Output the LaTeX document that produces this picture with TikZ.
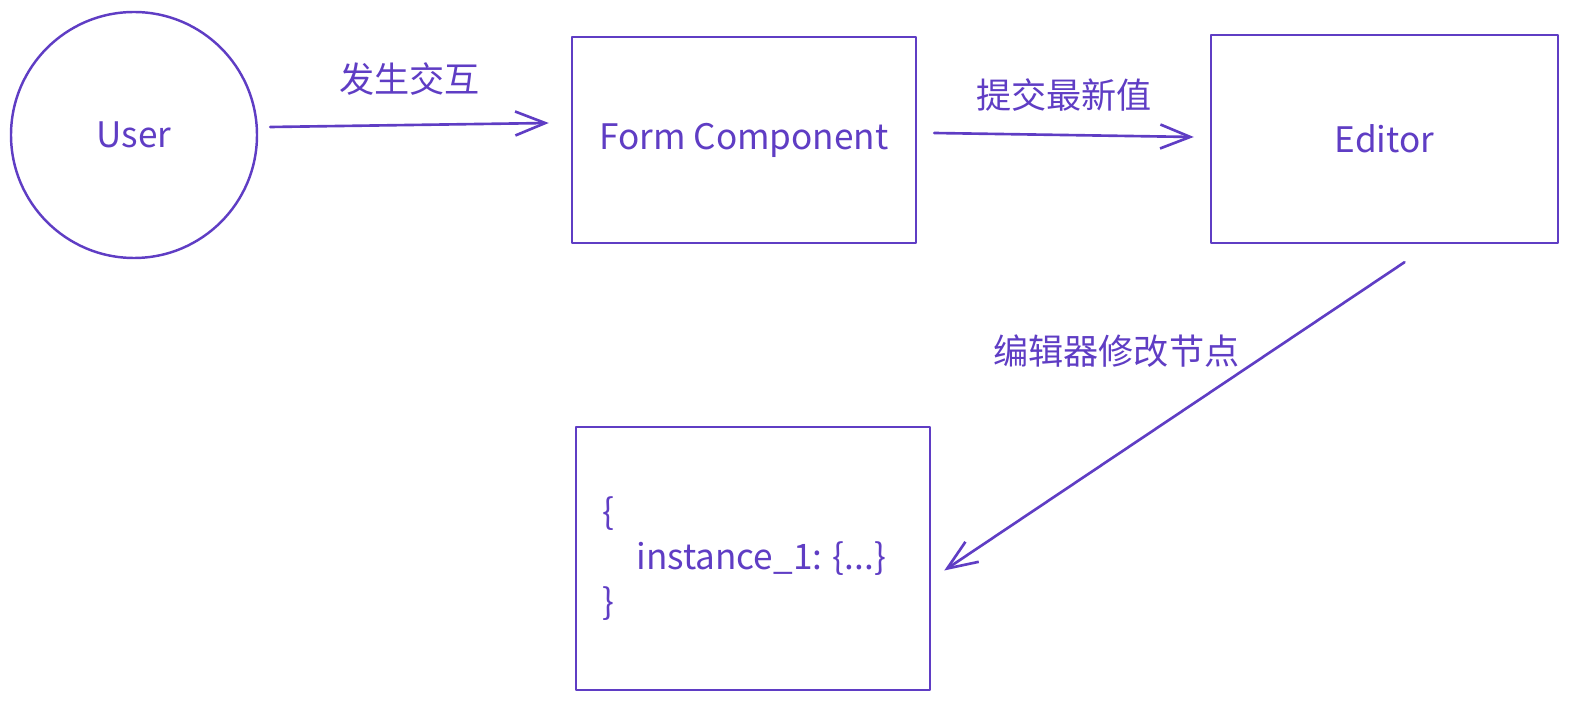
\documentclass[tikz,border=0pt]{standalone}
\usepackage{fontspec}
\setmainfont{Noto Sans CJK SC}
\usetikzlibrary{arrows.meta,positioning}
\definecolor{ink}{HTML}{5F3DC4}
\begin{document}
\begin{tikzpicture}[line join=round, line cap=round, >={Straight Barb[length=0.3cm,width=0.24cm]},
	every node/.style={text=ink, font=\fontsize{10}{12}\selectfont},
	shape box/.style={draw=ink, line width=0.7pt, rectangle, inner sep=0pt},
	flow/.style={draw=ink, line width=0.75pt, ->},
	tag/.style={inner sep=0pt}]
	\useasboundingbox (0,0) rectangle (15.69,7.01);
	\node[draw=ink, line width=0.7pt, circle, minimum size=2.46cm, inner sep=0pt] (user) at (1.34,5.66) {User};
	\node[shape box, minimum width=3.44cm, minimum height=2.06cm] (form) at (7.44,5.61) {Form Component};
	\node[shape box, minimum width=3.47cm, minimum height=2.08cm] (editor) at (13.845,5.62) {Editor};
	\node[shape box, minimum width=3.54cm, minimum height=2.63cm] (json) at (7.53,1.425) {};
	\node[right=0.27cm of json.west, align=left, inner sep=0pt, font=\fontsize{10}{12.8}\selectfont] (data) {\{\\\hspace{0.34cm}instance\_1: \{...\}\\\}};
	\draw[flow] ([shift={(0.12,0.08)}]user.east) -- ([shift={(-0.22,0.17)}]form.west) node[tag, midway, above=0.28cm] {发生交互};
	\draw[flow] ([shift={(0.17,0.07)}]form.east) -- ([shift={(-0.16,0.02)}]editor.west) node[tag, midway, above=0.22cm] {提交最新值};
	\draw[flow] ([shift={(0.20,-0.18)}]editor.south) -- ([shift={(0.13,-0.12)}]json.east) node[tag, midway, shift={(-0.58,0.65)}] {编辑器修改节点};
\end{tikzpicture}
\end{document}
